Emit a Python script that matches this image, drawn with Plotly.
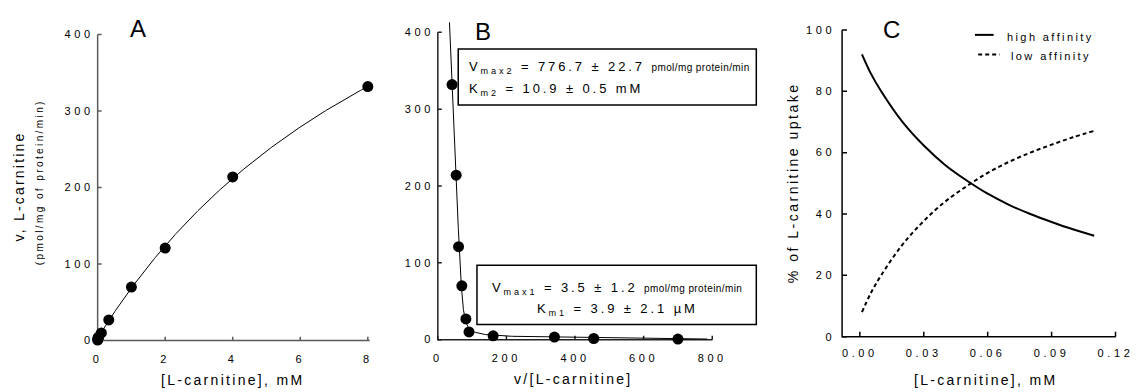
import numpy as np
import plotly.graph_objects as go

W, H = 1145, 392

# Substrate concentrations (mM) and measured uptake rates (pmol/mg protein/min)
conc_mM = [0.001, 0.0033, 0.01, 0.031, 0.11, 0.33, 1, 2, 4, 8]
uptake = [0.7, 1.5, 3.4, 5.0, 10, 27, 70, 121, 214, 332]

# Two-site kinetic constants (high- and low-affinity components)
vmax1, vmax1_se = 3.5, 1.2
km1_uM, km1_se = 3.9, 2.1
vmax2, vmax2_se = 776.7, 22.7
km2_mM, km2_se = 10.9, 0.5

# Relative contribution of each component to total uptake (%)
share_conc = [0.001, 0.005, 0.01, 0.02, 0.03, 0.04, 0.05, 0.06, 0.07, 0.08, 0.09, 0.10, 0.11]
high_affinity = [92, 86, 80, 70, 62.3, 56, 51, 46.6, 43, 40, 37.4, 35, 32.9]
low_affinity = [8, 14, 20, 30, 37.7, 44, 49, 53.4, 57, 60, 62.6, 65, 67.1]

# Tick labels
a_xticks = [0, 2, 4, 6, 8]
ab_yticks = [0, 100, 200, 300, 400]
b_xticks = [0, 200, 400, 600, 800]
c_xticks = [0.00, 0.03, 0.06, 0.09, 0.12]
c_yticks = [0, 20, 40, 60, 80, 100]

FONT = "Liberation Sans, Arial, Helvetica, sans-serif"


def ls(text, spacing):
    return f'<span style="letter-spacing:{spacing}px">{text}</span>'


def two_site(s):
    km1 = km1_uM / 1000.0
    return vmax1 * s / (km1 + s) + vmax2 * s / (km2_mM + s)


def px(x):
    return x / W


def py(y):
    return 1 - y / H


def val(p, m):
    """Data value at pixel p for an axis map (v0, p0, v1, p1)."""
    v0, p0, v1, p1 = m
    return v0 + (p - p0) * (v1 - v0) / (p1 - p0)


# Axis maps: value v0 sits at pixel p0, v1 at p1
A_X, A_Y = (0, 97, 8, 371), (0, 343, 400, 33)
B_X, B_Y = (0, 442, 800, 720.3), (0, 342, 400, 30.7)
C_X, C_Y = (0, 870, 0.12, 1129.3), (0, 339, 100, 28.3)

# Frames: axis-line pixel positions
A = dict(left=97, bottom=343, x_end=373, y_end=33, right=377, top=29)
B = dict(left=442, bottom=342, x_end=720.5, y_end=30.7, right=724, top=20.5)
C = dict(left=852, bottom=339, x_end=1129.5, y_end=28.3, right=1133, top=24)
PAD = 3  # plot area reaches a little past the axis lines so they are not clipped

fig = go.Figure()


def frame_trace(f, xm, ym, xticks, yticks, tick_len, color, xaxis, yaxis):
    xs = [val(f["x_end"], xm), val(f["left"], xm), val(f["left"], xm), None]
    ys = [val(f["bottom"], ym), val(f["bottom"], ym), val(f["y_end"], ym), None]
    for v in xticks:
        xs += [v, v, None]
        ys += [val(f["bottom"], ym), val(f["bottom"] - tick_len, ym), None]
    for v in yticks:
        xs += [val(f["left"], xm), val(f["left"] + tick_len, xm), None]
        ys += [v, v, None]
    fig.add_trace(go.Scatter(x=xs, y=ys, mode="lines", line=dict(color=color, width=1.5),
                             xaxis=xaxis, yaxis=yaxis, hoverinfo="skip", connectgaps=False))


# Axis frames (drawn first so the data sit on top)
frame_trace(A, A_X, A_Y, a_xticks, ab_yticks, 4, "#5a5a5a", "x", "y")
frame_trace(B, B_X, B_Y, b_xticks, ab_yticks, 4, "#202020", "x2", "y2")
frame_trace(C, C_X, C_Y, c_xticks, c_yticks, 5, "black", "x3", "y3")

# Panel A: saturation curve
s_fit = np.linspace(0, 8, 300)
fig.add_trace(go.Scatter(x=s_fit, y=two_site(s_fit), mode="lines",
                         line=dict(color="black", width=1), xaxis="x", yaxis="y",
                         hoverinfo="skip"))
fig.add_trace(go.Scatter(x=conc_mM, y=uptake, mode="markers",
                         marker=dict(color="black", size=11), xaxis="x", yaxis="y",
                         cliponaxis=False))

# Panel B: v against v/[S]
s_b = np.logspace(-3, np.log10(13), 500)
v_b = two_site(s_b)
fig.add_trace(go.Scatter(x=v_b / s_b, y=v_b, mode="lines",
                         line=dict(color="black", width=1), xaxis="x2", yaxis="y2",
                         hoverinfo="skip"))
fig.add_trace(go.Scatter(x=[v / s for v, s in zip(uptake, conc_mM)], y=uptake,
                         mode="markers", marker=dict(color="black", size=11),
                         xaxis="x2", yaxis="y2", cliponaxis=False))

# Panel C: fractional contribution
fig.add_trace(go.Scatter(x=share_conc, y=high_affinity, mode="lines",
                         line=dict(color="black", width=2, shape="spline"),
                         xaxis="x3", yaxis="y3"))
fig.add_trace(go.Scatter(x=share_conc, y=low_affinity, mode="lines",
                         line=dict(color="black", width=2, shape="spline", dash="4px,3px"),
                         xaxis="x3", yaxis="y3"))


def xaxis_cfg(f, m, tickvals, ticktext, anchor, standoff):
    lo, hi = f["left"] - PAD, f["right"]
    return dict(domain=[px(lo), px(hi)], range=[val(lo, m), val(hi, m)], anchor=anchor,
                showline=False, ticks="", showgrid=False, zeroline=False,
                tickvals=tickvals, ticktext=ticktext, ticklabelstandoff=standoff,
                tickfont=dict(size=11, color="black", family=FONT))


def yaxis_cfg(f, m, tickvals, ticktext, anchor, standoff):
    lo, hi = f["bottom"] + PAD, f["top"]
    return dict(domain=[py(lo), py(hi)], range=[val(lo, m), val(hi, m)], anchor=anchor,
                showline=False, ticks="", showgrid=False, zeroline=False,
                tickvals=tickvals, ticktext=ticktext, ticklabelstandoff=standoff,
                tickfont=dict(size=11, color="black", family=FONT))


tick_sp = 3.6
a_x_ax = xaxis_cfg(A, A_X, a_xticks, [ls(t, tick_sp) for t in a_xticks], "y", 7)
a_y_ax = yaxis_cfg(A, A_Y, ab_yticks, [ls(t, tick_sp) for t in ab_yticks], "x", 0)
b_x_ax = xaxis_cfg(B, B_X, b_xticks, [ls(t, tick_sp) for t in b_xticks], "y2", 7)
b_y_ax = yaxis_cfg(B, B_Y, ab_yticks, [ls(t, tick_sp) for t in ab_yticks], "x2", 0)
c_x_ax = xaxis_cfg(C, C_X, c_xticks, [ls(f"{t:.2f}", tick_sp) for t in c_xticks], "y3", 5)
c_y_ax = yaxis_cfg(C, C_Y, c_yticks, [ls(t, tick_sp) for t in c_yticks], "x3", 3)

annotations = []


def text(x, y, t, size, xanchor="center", angle=0):
    annotations.append(dict(x=px(x), y=py(y), xref="paper", yref="paper", text=t,
                            showarrow=False, xanchor=xanchor, yanchor="middle",
                            textangle=angle, font=dict(size=size, color="black", family=FONT)))


# Panel letters
text(137.5, 27, "A", 24)
text(487.7, 30, "B", 24)
text(902.5, 28, "C", 24)

# Axis titles
text(234, 383, ls("[L-carnitine], mM", 2.3), 14)
text(580, 382, ls("v/[L-carnitine]", 2.3), 14)
text(997, 383, ls("[L-carnitine], mM", 2.3), 14)
text(17, 187, ls("v, L-carnitine", 2.2), 14, angle=-90)
text(38, 182, ls("(pmol/mg of protein/min)", 2.4), 10, angle=-90)
text(801.7, 183, ls("% of L-carnitine uptake", 2.5), 14, angle=-90)

# Kinetic constants
unit = '<span style="font-size:10px;letter-spacing:0.4px">pmol/mg protein/min</span>'
box1_l1 = ls(f"V<sub>max2</sub> = {vmax2:.1f} ± {vmax2_se:.1f} ", 2.9) + unit
box1_l2 = ls(f"K<sub>m2</sub> = {km2_mM:.1f} ± {km2_se:.1f} mM", 2.9)
box2_l1 = ls(f"V<sub>max1</sub> = {vmax1:.1f} ± {vmax1_se:.1f} ", 2.9) + unit
box2_l2 = ls(f"K<sub>m1</sub> = {km1_uM:.1f} ± {km1_se:.1f} µM", 2.9)
text(471.7, 66.7, box1_l1, 13, xanchor="left")
text(471.7, 88.3, box1_l2, 13, xanchor="left")
text(624, 290, box2_l1, 13)
text(624, 311.7, box2_l2, 13)

# Legend entries for panel C
text(1017, 35.5, ls("high affinity", 2.4), 11, xanchor="left")
text(1021, 54.5, ls("low affinity", 2.4), 11, xanchor="left")

shapes = [
    dict(type="rect", xref="paper", yref="paper", x0=px(462.7), x1=px(765),
         y0=py(104.3), y1=py(47.7), line=dict(color="black", width=1.5)),
    dict(type="rect", xref="paper", yref="paper", x0=px(481.7), x1=px(765),
         y0=py(326.7), y1=py(266.7), line=dict(color="black", width=1.5)),
    dict(type="line", xref="paper", yref="paper", x0=px(986.7), x1=px(1005.7),
         y0=py(33.3), y1=py(33.3), line=dict(color="black", width=2)),
    dict(type="line", xref="paper", yref="paper", x0=px(990), x1=px(1011.7),
         y0=py(53.3), y1=py(53.3), line=dict(color="black", width=2, dash="4px,3px")),
]

fig.update_layout(
    width=W, height=H, margin=dict(l=0, r=0, t=0, b=0),
    paper_bgcolor="white", plot_bgcolor="white", showlegend=False,
    font=dict(family=FONT, color="black"),
    xaxis=a_x_ax, yaxis=a_y_ax, xaxis2=b_x_ax, yaxis2=b_y_ax,
    xaxis3=c_x_ax, yaxis3=c_y_ax,
    annotations=annotations, shapes=shapes,
)

fig.write_html("out.html", include_plotlyjs=True, full_html=True,
               config={"displayModeBar": False},
               post_script="document.body.style.margin = '0';")
